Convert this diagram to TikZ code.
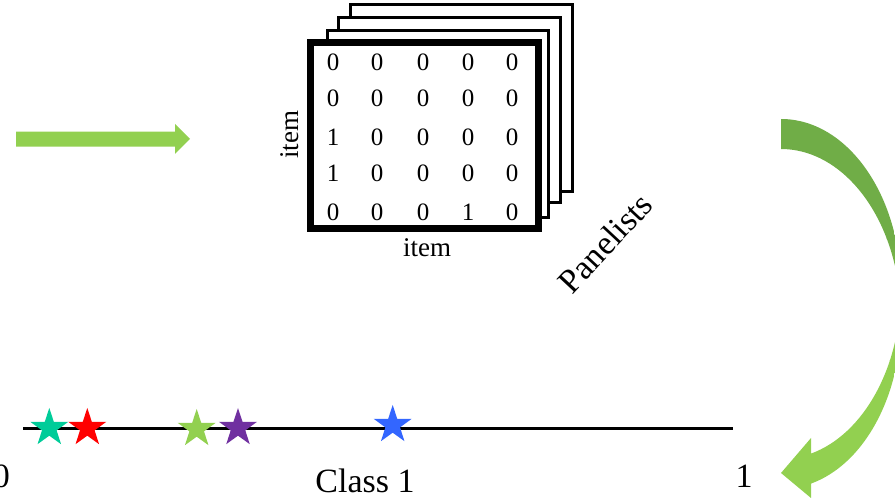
\documentclass[tikz,border=0pt]{standalone}
\usepackage{fontspec}
\setmainfont{Liberation Serif}
\usetikzlibrary{shapes.geometric}
\definecolor{lgreen}{HTML}{92D050}
\definecolor{dgreen}{HTML}{70AD47}
\definecolor{steal}{HTML}{00CC99}
\definecolor{sred}{HTML}{FF0000}
\definecolor{spurple}{HTML}{7030A0}
\definecolor{sblue}{HTML}{3366FF}
\tikzset{
  backbox/.style={draw=black, fill=white, line width=3pt},
  frontbox/.style={draw=black, fill=white, line width=7pt},
  digit/.style={font=\fontsize{25}{30}\selectfont, inner sep=0pt},
  axlabel/.style={font=\fontsize{27}{32}\selectfont, inner sep=0pt},
  biglabel/.style={font=\fontsize{34}{40}\selectfont, inner sep=0pt},
  mystar/.style={star, star points=5, star point ratio=2.6, minimum size=40pt, inner sep=0pt, draw=none, fill=#1}
}
\begin{document}
\begin{tikzpicture}[x=1pt,y=-1pt]
\useasboundingbox (0,0) rectangle (895,502);
% stacked panels
\draw[backbox] (350,5) rectangle (572,192);
\draw[backbox] (338,18) rectangle (560,203);
\draw[backbox] (327,31) rectangle (548,218);
\draw[frontbox] (310,43) rectangle (538,228.5);
% matrix entries
\foreach \row/\y/\vals in {1/62/{0,0,0,0,0},2/98/{0,0,0,0,0},3/137/{1,0,0,0,0},4/173/{1,0,0,0,0},5/212/{0,0,0,1,0}}{
  \foreach \v [count=\c] in \vals {
    \pgfmathsetmacro{\xx}{{333,377,423,468,512}[\c-1]}
    \node[digit] (m\row\c) at (\xx,\y) {\v};
  }
}
\node[axlabel, rotate=90] (itemL) at (290,135) {item};
\node[axlabel] (itemB) at (427,248) {item};
\node[biglabel, rotate=47] (pan) at (605,243) {Panelists};
% left straight arrow
\fill[lgreen] (16,131.7) -- (175,131.7) -- (175,124) -- (190,139) -- (175,154) -- (175,146.7) -- (16,146.7) -- cycle;
% curved arrow
\begin{scope}
\clip (781,119) arc[start angle=-90, end angle=75.52, x radius=120, y radius=170]
  -- (811,438) -- (781,473) -- (811,498) -- (811,483.6)
  arc[start angle=75.52, end angle=-90, x radius=120, y radius=170] -- cycle;
\fill[dgreen] (760,100) rectangle (900,240);
\shade[top color=dgreen, bottom color=lgreen] (760,239) rectangle (900,361);
\fill[lgreen] (760,360) rectangle (900,502);
\end{scope}
% number line
\coordinate (l0) at (23,428.3);
\coordinate (l1) at (733,428.3);
\draw[line width=3pt] (l0) -- (l1);
\node[mystar=steal] (s1) at (49.3,428) {};
\node[mystar=sred] (s2) at (87.3,428) {};
\node[mystar=lgreen] (s3) at (196.7,429) {};
\node[mystar=spurple] (s4) at (238,428) {};
\node[mystar=sblue] (s5) at (392.7,425) {};
\node[biglabel] (zero) at (1.5,476) {0};
\node[biglabel] (one) at (744,476) {1};
\node[biglabel] (cls) at (365,481) {Class 1};
\end{tikzpicture}
\end{document}
